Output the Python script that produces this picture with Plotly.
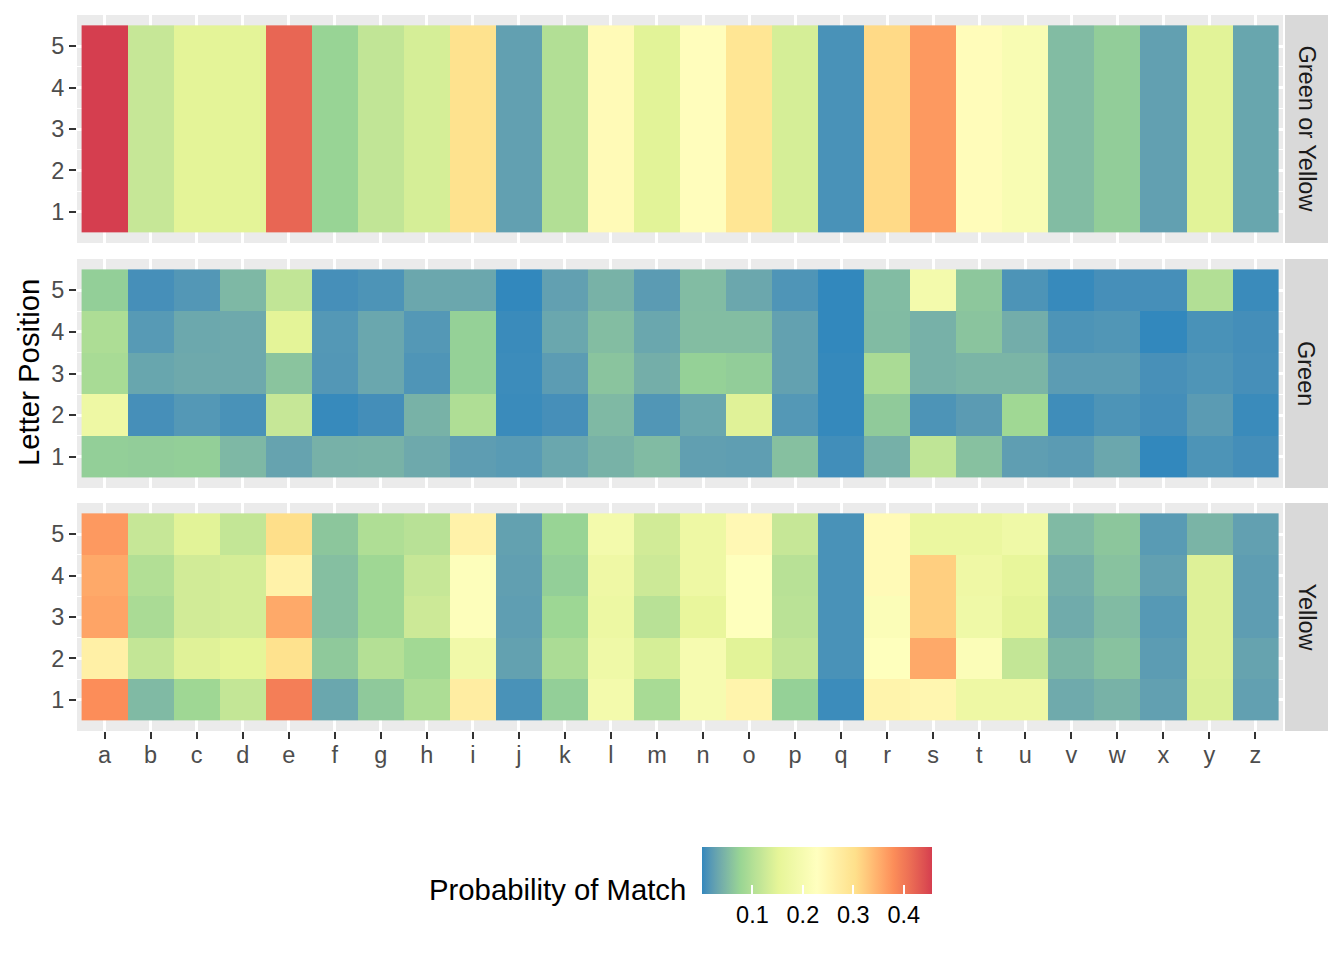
import numpy as np
import plotly.graph_objects as go

# ---------------- data ----------------
letters = list("abcdefghijklmnopqrstuvwxyz")
positions = [1, 2, 3, 4, 5]

# probability that letter appears anywhere (same for every position)
green_or_yellow = [0.456, 0.120, 0.150, 0.150, 0.420, 0.075, 0.115, 0.135, 0.300, 0.025,
                   0.100, 0.240, 0.148, 0.232, 0.290, 0.135, 0.010, 0.310, 0.370, 0.235,
                   0.205, 0.052, 0.068, 0.025, 0.148, 0.030]

# Green: letter in exactly that position
green_p1 = [0.070, 0.068, 0.070, 0.048, 0.028, 0.042, 0.043, 0.034, 0.022, 0.019,
            0.031, 0.043, 0.051, 0.024, 0.023, 0.056, 0.006, 0.041, 0.113, 0.057,
            0.023, 0.020, 0.032, 0.000, 0.012, 0.007]
green_p2 = [0.175, 0.008, 0.016, 0.010, 0.120, 0.002, 0.007, 0.043, 0.097, 0.003,
            0.008, 0.049, 0.014, 0.031, 0.145, 0.016, 0.001, 0.066, 0.012, 0.020,
            0.083, 0.005, 0.012, 0.007, 0.020, 0.003]
green_p3 = [0.090, 0.030, 0.034, 0.034, 0.060, 0.015, 0.031, 0.013, 0.072, 0.004,
            0.021, 0.060, 0.039, 0.072, 0.068, 0.026, 0.001, 0.092, 0.042, 0.046,
            0.046, 0.021, 0.021, 0.009, 0.013, 0.008]
green_p4 = [0.095, 0.018, 0.033, 0.034, 0.150, 0.016, 0.031, 0.016, 0.072, 0.003,
            0.031, 0.053, 0.031, 0.053, 0.053, 0.026, 0.000, 0.051, 0.042, 0.060,
            0.038, 0.012, 0.014, 0.000, 0.010, 0.007]
green_p5 = [0.070, 0.008, 0.015, 0.048, 0.115, 0.008, 0.012, 0.032, 0.032, 0.000,
            0.025, 0.043, 0.020, 0.052, 0.032, 0.013, 0.000, 0.052, 0.190, 0.063,
            0.012, 0.002, 0.008, 0.008, 0.100, 0.003]

# Yellow: letter in word but not in that position
yellow_p1 = [0.380, 0.050, 0.082, 0.117, 0.395, 0.031, 0.065, 0.095, 0.270, 0.010,
             0.070, 0.190, 0.090, 0.200, 0.255, 0.072, 0.004, 0.255, 0.250, 0.175,
             0.175, 0.035, 0.043, 0.025, 0.140, 0.025]
yellow_p2 = [0.265, 0.117, 0.145, 0.152, 0.300, 0.065, 0.102, 0.085, 0.185, 0.026,
             0.093, 0.180, 0.135, 0.200, 0.148, 0.115, 0.010, 0.225, 0.355, 0.215,
             0.117, 0.047, 0.058, 0.021, 0.143, 0.028]
yellow_p3 = [0.360, 0.092, 0.130, 0.133, 0.355, 0.055, 0.082, 0.125, 0.220, 0.023,
             0.080, 0.172, 0.105, 0.160, 0.225, 0.107, 0.010, 0.215, 0.320, 0.180,
             0.150, 0.036, 0.051, 0.017, 0.143, 0.022]
yellow_p4 = [0.355, 0.100, 0.130, 0.133, 0.260, 0.055, 0.082, 0.120, 0.220, 0.024,
             0.070, 0.177, 0.125, 0.175, 0.225, 0.105, 0.010, 0.240, 0.320, 0.177,
             0.158, 0.040, 0.058, 0.025, 0.143, 0.022]
yellow_p5 = [0.370, 0.120, 0.148, 0.117, 0.305, 0.062, 0.097, 0.105, 0.260, 0.026,
             0.075, 0.190, 0.130, 0.175, 0.245, 0.120, 0.010, 0.240, 0.167, 0.167,
             0.180, 0.050, 0.062, 0.019, 0.045, 0.025]

facet_labels = ["Green or Yellow", "Green", "Yellow"]
colorbar_ticks = [0.1, 0.2, 0.3, 0.4]

# ---------------- colour scale (RColorBrewer Spectral, reversed, Lab-interpolated) ----------------
spectral = ["#3288BD", "#99D594", "#E6F598", "#FFFFBF", "#FEE08B", "#FC8D59", "#D53E4F"]

def hex2rgb(h):
    h = h.lstrip("#")
    return np.array([int(h[i:i + 2], 16) for i in (0, 2, 4)]) / 255.0

M = np.array([[0.4124564, 0.3575761, 0.1804375],
              [0.2126729, 0.7151522, 0.0721750],
              [0.0193339, 0.1191920, 0.9503041]])
WHITE = np.array([0.95047, 1.0, 1.08883])

def rgb2lab(c):
    lin = np.where(c <= 0.04045, c / 12.92, ((c + 0.055) / 1.055) ** 2.4)
    xyz = M @ lin / WHITE
    f = np.where(xyz > (6 / 29) ** 3, np.cbrt(xyz), xyz / (3 * (6 / 29) ** 2) + 4 / 29)
    return np.array([116 * f[1] - 16, 500 * (f[0] - f[1]), 200 * (f[1] - f[2])])

def lab2rgb(lab):
    fy = (lab[0] + 16) / 116
    fx = fy + lab[1] / 500
    fz = fy - lab[2] / 200
    f = np.array([fx, fy, fz])
    xyz = np.where(f > 6 / 29, f ** 3, 3 * (6 / 29) ** 2 * (f - 4 / 29)) * WHITE
    lin = np.linalg.solve(M, xyz)
    lin = np.clip(lin, 0, 1)
    c = np.where(lin <= 0.0031308, 12.92 * lin, 1.055 * lin ** (1 / 2.4) - 0.055)
    c = np.clip(c, 0, 1)
    return "rgb(%d,%d,%d)" % tuple(np.round(c * 255).astype(int))

labs = [rgb2lab(hex2rgb(h)) for h in spectral]
colorscale = []
nseg = len(spectral) - 1
steps = 10
for s in range(nseg):
    for k in range(steps):
        t = k / steps
        colorscale.append([(s + t) / nseg, lab2rgb(labs[s] * (1 - t) + labs[s + 1] * t)])
colorscale.append([1.0, lab2rgb(labs[-1])])
transparent_scale = [[0, "rgba(0,0,0,0)"], [1, "rgba(0,0,0,0)"]]

# ---------------- facets ----------------
green_rows = [green_p1, green_p2, green_p3, green_p4, green_p5]
yellow_rows = [yellow_p1, yellow_p2, yellow_p3, yellow_p4, yellow_p5]
gy_rows = [green_or_yellow for _ in positions]
facets = [gy_rows, green_rows, yellow_rows]

all_vals = np.array(facets).ravel()
zmin, zmax = float(all_vals.min()), float(all_vals.max())

# ---------------- layout geometry (page pixels) ----------------
OFF = 8                      # default body margin of the html page
W, H = 1344 - OFF, 960 - OFF  # figure size so that it fits the window
PL, PR, PT, PB = 77, 1283, 15, 731
pw, ph = PR - PL, PB - PT
panels_px = [(15, 243), (259, 488), (503, 731)]  # top, bottom of each panel
strip_px = (1285, 1328)
cb_left, cb_right, cb_top, cb_bot = 702, 932, 847, 894

def px_x(x):
    return (x - PL) / pw

def px_y(y):
    return (PB - y) / ph

fig = go.Figure()
FONT = "Liberation Sans, Arial, sans-serif"
axis_font = dict(family=FONT, size=23.5, color="#4D4D4D")

for i, rows in enumerate(facets):
    suffix = "" if i == 0 else str(i + 1)
    fig.add_trace(go.Heatmap(
        x=letters, y=positions, z=rows, coloraxis="coloraxis",
        xaxis="x" + suffix, yaxis="y" + suffix, hoverongaps=False,
    ))
    top, bot = panels_px[i]
    dom = [px_y(bot), px_y(top)]
    last = i == len(facets) - 1
    fig.update_layout({
        "xaxis" + suffix: dict(
            domain=[0, 1], anchor="y" + suffix, type="category",
            categoryorder="array", categoryarray=letters,
            range=[-0.6, len(letters) - 0.4],
            showgrid=True, gridcolor="white", gridwidth=2.5,
            showticklabels=last, ticks="outside" if last else "",
            ticklen=7, tickwidth=2, tickcolor="#333333",
            ticklabelstandoff=-4 if last else 0,
            tickfont=axis_font, zeroline=False, showline=False,
            matches=None if i == 0 else "x",
        ),
        "yaxis" + suffix: dict(
            domain=dom, anchor="x" + suffix,
            range=[0.25, 5.75], tickvals=positions,
            showgrid=True, gridcolor="white", gridwidth=2.5,
            minor=dict(tickvals=[1.5, 2.5, 3.5, 4.5], showgrid=True,
                       gridcolor="white", gridwidth=1.2, ticks=""),
            ticks="outside", ticklen=7, tickwidth=2, tickcolor="#333333",
            tickfont=axis_font, zeroline=False, showline=False,
        ),
    })
    # facet strip
    fig.add_shape(type="rect", xref="paper", yref="paper",
                  x0=px_x(strip_px[0]), x1=px_x(strip_px[1]),
                  y0=dom[0], y1=dom[1], fillcolor="#D9D9D9", line_width=0, layer="below")
    fig.add_annotation(text=facet_labels[i], xref="paper", yref="paper",
                       x=px_x(sum(strip_px) / 2), y=sum(dom) / 2, textangle=90,
                       showarrow=False, xanchor="center", yanchor="middle",
                       font=dict(family=FONT, size=23.5, color="#1A1A1A"))

# invisible duplicate trace to carry a second (transparent) colorbar for the top tick marks
fig.add_trace(go.Heatmap(x=letters, y=positions, z=yellow_rows, coloraxis="coloraxis2",
                         xaxis="x3", yaxis="y3", hoverinfo="skip"))

cb_common = dict(
    orientation="h", thickness=cb_bot - cb_top, thicknessmode="pixels",
    len=cb_right - cb_left, lenmode="pixels",
    x=px_x((cb_left + cb_right) / 2), xanchor="center",
    y=px_y(cb_top), yanchor="top", xpad=0, ypad=0,
    outlinewidth=0, tickvals=colorbar_ticks,
    ticks="inside", ticklen=9, tickwidth=1.5, tickcolor="white",
    tickfont=dict(family=FONT, size=23.5, color="#000000"),
)
fig.update_layout(
    coloraxis=dict(colorscale=colorscale, cmin=zmin, cmax=zmax,
                   colorbar=dict(cb_common, ticklabelposition="outside")),
    coloraxis2=dict(colorscale=transparent_scale, cmin=zmin, cmax=zmax,
                    colorbar=dict(cb_common, ticklabelposition="outside top",
                                  showticklabels=True,
                                  tickfont=dict(size=1, color="rgba(0,0,0,0)"))),
)

fig.add_annotation(text="Letter Position", xref="paper", yref="paper",
                   x=px_x(28), y=0.5, textangle=-90, showarrow=False,
                   xanchor="center", yanchor="middle",
                   font=dict(family=FONT, size=29.3, color="#000000"))
fig.add_annotation(text="Probability of Match", xref="paper", yref="paper",
                   x=px_x(688), y=px_y(889), showarrow=False,
                   xanchor="right", yanchor="middle",
                   font=dict(family=FONT, size=29.3, color="#000000"))

fig.update_layout(
    width=W, height=H, paper_bgcolor="white", plot_bgcolor="#EBEBEB",
    margin=dict(l=PL - OFF, r=1344 - PR, t=PT - OFF, b=960 - PB, pad=0),
    showlegend=False,
    font=dict(family=FONT),
)

fig.write_html("out.html")
